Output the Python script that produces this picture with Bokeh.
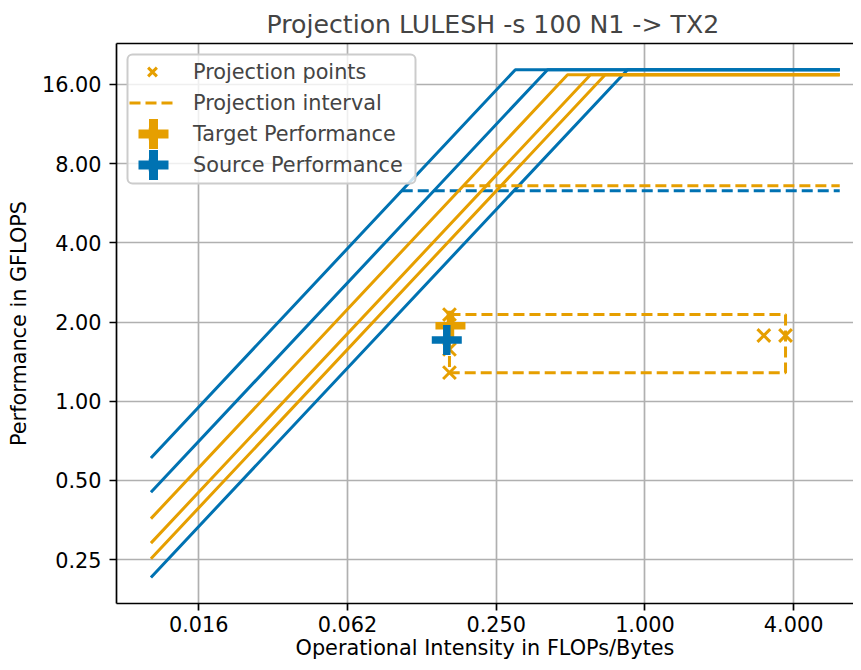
from bokeh.plotting import figure
from bokeh.models import (Range1d, FixedTicker, LogAxis, Legend, LegendItem,
                          BoxAnnotation, CustomJSTickFormatter)
from bokeh.embed import file_html
from bokeh.resources import INLINE

# ---------------- data ----------------
source_bandwidths = [60.9, 45.1, 21.4]      # blue roofline slopes
source_peak = 18.2                          # blue solid roof
source_ceiling = 6.31                       # blue dashed ceiling
target_bandwidths = [35.8, 28.9, 25.2]      # orange roofline slopes
target_peak = 17.4                          # orange solid roof
target_ceiling = 6.59                       # orange dashed ceiling
oi_start = 0.01
oi_end = 6.15

proj_x = [0.1617, 0.1617, 0.1617, 3.03, 3.71]
proj_y = [2.135, 1.574, 1.284, 1.778, 1.778]

target_perf_x = [0.1632]
target_perf_y = [1.935]
source_perf_x = [0.1577]
source_perf_y = [1.710]

x_ticks = [0.015625, 0.0625, 0.25, 1.0, 4.0]
x_tick_labels = ["0.016", "0.062", "0.250", "1.000", "4.000"]
y_ticks = [0.25, 0.5, 1.0, 2.0, 4.0, 8.0, 16.0]
y_tick_labels = ["0.25", "0.50", "1.00", "2.00", "4.00", "8.00", "16.00"]

BLUE = "#0072B2"
ORANGE = "#E69F00"
FONT = "DejaVu Sans"

# ---------------- figure ----------------
W, H = 853, 662
LEFT, TOP, BOTTOM = 116, 43, 57
frame_w = W - LEFT
frame_h = H - TOP - BOTTOM
px_per_oct_x = 74.35
px_per_oct_y = 79.5
x_lo = -7.107
y_hi = 4.516
x_range = Range1d(2 ** x_lo, 2 ** (x_lo + frame_w / px_per_oct_x))
y_range = Range1d(2 ** (y_hi - frame_h / px_per_oct_y), 2 ** y_hi)

p = figure(width=W, height=H, x_axis_type="log", y_axis_type="log",
           x_range=x_range, y_range=y_range, output_backend="svg",
           toolbar_location=None, min_border_left=LEFT, min_border_top=TOP,
           min_border_bottom=BOTTOM, min_border_right=0,
           title="Projection LULESH -s 100 N1 -> TX2")
p.background_fill_color = "white"
p.border_fill_color = "white"
p.outline_line_color = None

p.title.text_font = FONT
p.title.text_font_size = "25.2px"
p.title.text_font_style = "normal"
p.title.align = "left"
p.title.offset = 150
p.title.standoff = 9

def fmt(vals, labs):
    return CustomJSTickFormatter(args=dict(vals=vals, labs=labs), code="""
        let best = 0;
        for (let i = 0; i < vals.length; i++) {
            if (Math.abs(Math.log(vals[i]) - Math.log(tick)) < Math.abs(Math.log(vals[best]) - Math.log(tick))) best = i;
        }
        return labs[best];
    """)

for ax, ticks, labs in ((p.xaxis[0], x_ticks, x_tick_labels), (p.yaxis[0], y_ticks, y_tick_labels)):
    ax.ticker = FixedTicker(ticks=ticks)
    ax.formatter = fmt(ticks, labs)
    ax.major_label_text_font = FONT
    ax.major_label_text_font_size = "20.8px"
    ax.major_label_text_color = "black"
    ax.axis_label_text_font = FONT
    ax.axis_label_text_font_size = "20.8px"
    ax.axis_label_text_font_style = "normal"
    ax.axis_label_text_color = "black"
    ax.axis_line_width = 1.7
    ax.axis_line_color = "black"
    ax.major_tick_line_width = 1.7
    ax.major_tick_line_color = "black"
    ax.major_tick_out = 7
    ax.major_tick_in = 0
    ax.minor_tick_line_color = None

p.xaxis.axis_label = "Operational Intensity in FLOPs/Bytes"
p.xaxis.major_label_standoff = 5
p.xaxis.axis_label_standoff = 1
p.yaxis.axis_label = "Performance in GFLOPS"
p.yaxis.major_label_standoff = 8
p.yaxis.axis_label_standoff = 8

# top spine
top_axis = LogAxis(ticker=FixedTicker(ticks=[]), major_tick_line_color=None,
                   minor_tick_line_color=None, major_tick_out=0, major_tick_in=0,
                   major_label_standoff=0, major_label_text_font_size="0px",
                   axis_line_width=1.7, axis_line_color="black")
p.add_layout(top_axis, "above")

p.xgrid.ticker = FixedTicker(ticks=x_ticks)
p.ygrid.ticker = FixedTicker(ticks=y_ticks)
for g in (p.xgrid[0], p.ygrid[0]):
    g.grid_line_color = "#b0b0b0"
    g.grid_line_width = 1.7

# ---------------- rooflines ----------------
def roof(bw, peak):
    return [oi_start, peak / bw, oi_end], [bw * oi_start, peak, peak]

for bw in source_bandwidths:
    xs, ys = roof(bw, source_peak)
    p.line(xs, ys, line_color=BLUE, line_width=3)
p.line([source_ceiling / max(source_bandwidths), oi_end], [source_ceiling, source_ceiling],
       line_color=BLUE, line_width=3, line_dash="11 5")

for bw in target_bandwidths:
    xs, ys = roof(bw, target_peak)
    p.line(xs, ys, line_color=ORANGE, line_width=3)
p.line([target_ceiling / max(target_bandwidths), oi_end], [target_ceiling, target_ceiling],
       line_color=ORANGE, line_width=3, line_dash="11 5")

# ---------------- projection ----------------
r_pts = p.scatter(proj_x, proj_y, marker="x", size=18, line_color=ORANGE, line_width=3)
bx0, bx1 = min(proj_x), max(proj_x)
by0, by1 = min(proj_y), max(proj_y)
r_box = p.line([bx0, bx1, bx1, bx0, bx0], [by1, by1, by0, by0, by1],
               line_color=ORANGE, line_width=3, line_dash="11 5")
r_tgt = p.scatter(target_perf_x, target_perf_y, marker="cross", size=30,
                  line_color=ORANGE, line_width=7.5)
r_src = p.scatter(source_perf_x, source_perf_y, marker="cross", size=30,
                  line_color=BLUE, line_width=7.5)

# ---------------- legend ----------------
MARGIN, PAD, GW, GH, SP = 13, 4, 46, 31, 0

# legend frame (semi-transparent, rounded), drawn first
p.add_layout(BoxAnnotation(left=127, right=415, top=54, bottom=183,
                           left_units="canvas", right_units="canvas",
                           top_units="canvas", bottom_units="canvas",
                           fill_color="white", fill_alpha=0.8,
                           line_color="#cccccc", line_width=2, line_alpha=1,
                           border_radius=5))

# enlarged cross glyphs for the performance entries
cx = LEFT + MARGIN + PAD + GW / 2 - 3
for i, col in ((2, ORANGE), (3, BLUE)):
    cy = TOP + MARGIN + PAD + i * (GH + SP) + GH / 2 - 4
    for (hw, hh) in ((15, 4.5), (4.5, 15)):
        p.add_layout(BoxAnnotation(left=cx - hw, right=cx + hw, top=cy - hh, bottom=cy + hh,
                                   left_units="canvas", right_units="canvas",
                                   top_units="canvas", bottom_units="canvas",
                                   fill_color=col, fill_alpha=1, line_color=None))

legend = Legend(items=[
    LegendItem(label="Projection points", renderers=[r_pts]),
    LegendItem(label="Projection interval", renderers=[r_box]),
    LegendItem(label="Target Performance", renderers=[r_tgt]),
    LegendItem(label="Source Performance", renderers=[r_src]),
], location="top_left", margin=MARGIN, padding=PAD, spacing=SP,
   glyph_width=GW, glyph_height=GH, label_height=GH, label_standoff=18,
   label_text_font=FONT, label_text_font_size="20.8px",
   background_fill_alpha=0, border_line_color=None)
p.add_layout(legend)

open("out.html", "w").write(file_html(p, INLINE))
